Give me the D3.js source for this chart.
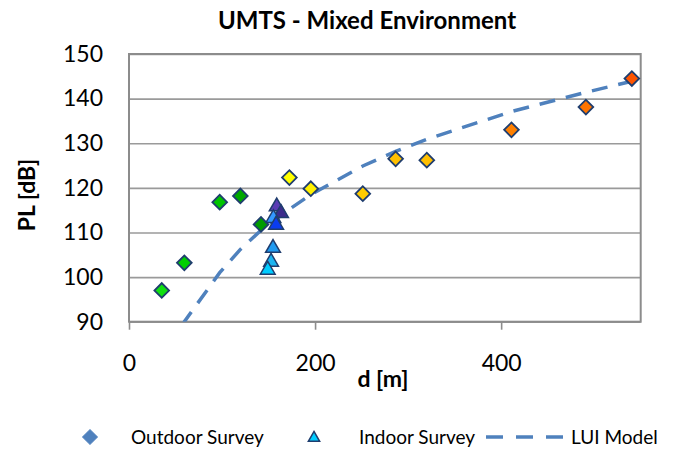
<!DOCTYPE html>
<html>
<head>
<meta charset="utf-8">
<script src="https://cdn.jsdelivr.net/npm/d3@7"></script>
<style>
  html, body { margin: 0; padding: 0; background: #fff; }
  svg { display: block; font-family: Lato, "Open Sans", sans-serif; }
</style>
</head>
<body>
<svg id="chart" width="679" height="451"></svg>
<script>
// Outdoor survey: distance [m], path loss [dB], marker colour
const outdoorDist  = [35.2, 59.5, 97.5, 119.7, 141.9, 172.4, 195.4, 251.3, 286.6, 320.1, 411.1, 491.1, 540.5];
const outdoorPL    = [97.0, 103.2, 116.8, 118.2, 111.8, 122.3, 119.8, 118.7, 126.5, 126.2, 133.0, 138.1, 144.5];
const outdoorColor = ["#11e011", "#00d000", "#00c400", "#00a800", "#009c00", "#ffff00", "#fff000", "#ffcc00",
                      "#ffc000", "#ffbf00", "#ff8000", "#ff7400", "#ff5500"];

// Indoor survey, listed in drawing order
const indoorDist  = [158.8, 163.4, 155.2, 158.1, 154.8, 152.7, 149.1];
const indoorPL    = [115.8, 114.3, 113.2, 111.7, 106.5, 103.4, 101.6];
const indoorColor = ["#5a3cb4", "#3b2c8c", "#3399ff", "#0a3cf0", "#1f9af0", "#1cb4f0", "#00ccff"];

// LUI model curve
const modelDist = [35.2, 59.5, 97.5, 119.7, 141.9, 172.4, 195.4, 251.3, 286.6, 320.1, 411.1, 491.1, 540.5];
const modelPL   = [78.0, 90.0, 101.0, 106.2, 110.5, 115.2, 118.5, 124.9, 128.2, 130.9, 137.1, 141.4, 143.9];

// Axis ticks
const xTicks = [0, 200, 400];
const yTicks = [90, 100, 110, 120, 130, 140, 150];

const svg = d3.select("#chart");
const plotLeft = 129, plotRight = 640.7, plotTop = 54, plotBottom = 321.7;

const x = d3.scaleLinear().domain([0, 550]).range([plotLeft, plotRight]);
const y = d3.scaleLinear().domain([90, 150]).range([plotBottom, plotTop]);

const gridColor = "#9a9a9a";
const edge = "#1f3d6e";

// Title
svg.append("text")
  .attr("x", 367).attr("y", 29)
  .attr("text-anchor", "middle")
  .attr("font-size", 24).attr("font-weight", "bold").attr("fill", "#000")
  .text("UMTS - Mixed Environment");

// Horizontal gridlines and y tick labels
const yAxis = svg.append("g")
  .attr("transform", `translate(${plotLeft},0)`)
  .call(d3.axisLeft(y).tickValues(yTicks).tickSize(-(plotRight - plotLeft)).tickPadding(26).tickFormat(d3.format("d")));
yAxis.select(".domain").remove();
yAxis.selectAll(".tick line").attr("stroke", gridColor).attr("stroke-width", 1.6);
yAxis.selectAll(".tick text").attr("font-size", 23).attr("fill", "#000").attr("font-family", "Lato, sans-serif");

// X axis with outward ticks
const xAxis = svg.append("g")
  .attr("transform", `translate(0,${plotBottom})`)
  .call(d3.axisBottom(x).tickValues(xTicks).tickSize(8).tickPadding(25).tickFormat(d3.format("d")));
xAxis.select(".domain").remove();
xAxis.selectAll(".tick line").attr("stroke", "#8c8c8c").attr("stroke-width", 1.6);
xAxis.selectAll(".tick text").attr("font-size", 23).attr("fill", "#000").attr("font-family", "Lato, sans-serif");

// Plot area frame
svg.append("rect")
  .attr("x", plotLeft).attr("y", plotTop)
  .attr("width", plotRight - plotLeft).attr("height", plotBottom - plotTop)
  .attr("fill", "none").attr("stroke", "#8c8c8c").attr("stroke-width", 2);

// Axis titles
svg.append("text")
  .attr("transform", `translate(35,195) rotate(-90)`)
  .attr("text-anchor", "middle")
  .attr("font-size", 23).attr("font-weight", "bold")
  .text("PL [dB]");
svg.append("text")
  .attr("x", 383).attr("y", 387)
  .attr("text-anchor", "middle")
  .attr("font-size", 23).attr("font-weight", "bold")
  .text("d [m]");

// Clip for the model line
svg.append("clipPath").attr("id", "plotClip")
  .append("rect").attr("x", plotLeft).attr("y", plotTop)
  .attr("width", plotRight - plotLeft).attr("height", plotBottom - plotTop);

const modelPts = modelDist.map((d, i) => [d, modelPL[i]]);
svg.append("path")
  .datum(modelPts)
  .attr("clip-path", "url(#plotClip)")
  .attr("fill", "none")
  .attr("stroke", "#4f81bd").attr("stroke-width", 3.5)
  .attr("stroke-dasharray", "16,11")
  .attr("d", d3.line().x(d => x(d[0])).y(d => y(d[1])));

// Outdoor diamonds
const diamond = d3.symbol().type(d3.symbolSquare).size(108);
svg.append("g").selectAll("path")
  .data(outdoorDist.map((d, i) => ({ d, pl: outdoorPL[i], c: outdoorColor[i] })))
  .join("path")
  .attr("d", diamond)
  .attr("transform", p => `translate(${x(p.d)},${y(p.pl)}) rotate(45)`)
  .attr("fill", p => p.c)
  .attr("stroke", edge).attr("stroke-width", 1.8);

// Indoor triangles
const tri = d3.symbol().type(d3.symbolTriangle).size(95);
svg.append("g").selectAll("path")
  .data(indoorDist.map((d, i) => ({ d, pl: indoorPL[i], c: indoorColor[i] })))
  .join("path")
  .attr("d", tri)
  .attr("transform", p => `translate(${x(p.d)},${y(p.pl)})`)
  .attr("fill", p => p.c)
  .attr("stroke", edge).attr("stroke-width", 1.5);

// Legend
const ly = 437;
const legend = svg.append("g").attr("font-size", 19);
legend.append("path")
  .attr("d", diamond)
  .attr("transform", `translate(90,${ly}) rotate(45)`)
  .attr("fill", "#4f81bd").attr("stroke", "#4f81bd").attr("stroke-width", 1);
legend.append("text").attr("x", 131).attr("y", ly).attr("dy", "0.35em").text("Outdoor Survey");
legend.append("path")
  .attr("d", d3.symbol().type(d3.symbolTriangle).size(55))
  .attr("transform", `translate(314,${ly + 1})`)
  .attr("fill", "#00ccff").attr("stroke", edge).attr("stroke-width", 1.5);
legend.append("text").attr("x", 359).attr("y", ly).attr("dy", "0.35em").text("Indoor Survey");
legend.append("line")
  .attr("x1", 486).attr("x2", 563).attr("y1", ly).attr("y2", ly)
  .attr("stroke", "#4f81bd").attr("stroke-width", 3.5)
  .attr("stroke-dasharray", "17,13");
legend.append("text").attr("x", 571).attr("y", ly).attr("dy", "0.35em").text("LUI Model");
</script>
</body>
</html>
